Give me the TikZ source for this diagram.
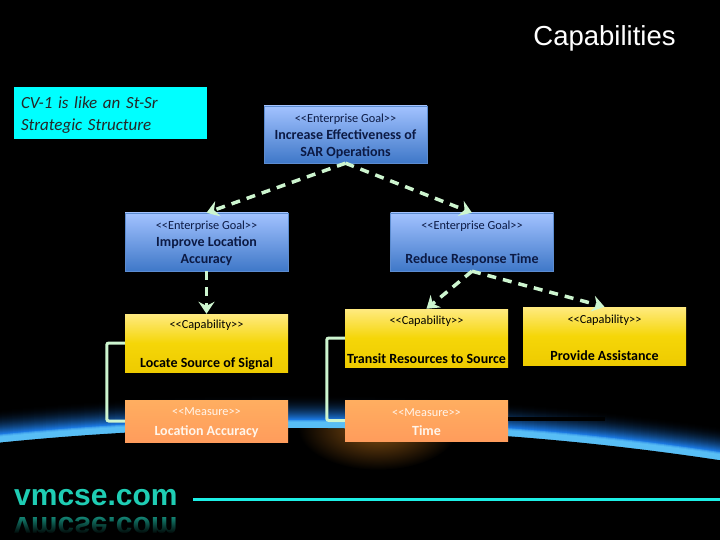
\documentclass[tikz,border=0pt]{standalone}
\usepackage{fontspec}
\setmainfont{Carlito}
\newfontfamily\titlefont{Liberation Sans}
\usetikzlibrary{arrows.meta, fadings}

\definecolor{linkgreen}{HTML}{CDF5CF}
\definecolor{rimblue}{HTML}{1B78E0}
\definecolor{rimsky}{HTML}{58BEF5}
\definecolor{rimpale}{HTML}{C8FAFF}
\definecolor{sitecyan}{HTML}{1DF0E6}
\definecolor{siteteal}{HTML}{1FCDB4}
\definecolor{noteaqua}{HTML}{00FFFF}
\definecolor{goaltop}{HTML}{A2C2FF}
\definecolor{goalbot}{HTML}{3F78C8}
\definecolor{goalink}{HTML}{0C1A44}
\definecolor{captop}{HTML}{FFEA80}
\definecolor{capmid}{HTML}{F5D608}
\definecolor{capbot}{HTML}{EECB00}
\definecolor{meastop}{HTML}{FFAE60}
\definecolor{measbot}{HTML}{FF9C5C}
\definecolor{sunglow}{HTML}{8A5212}

\tikzfading[name=midfade, left color=transparent!100, middle color=transparent!0, right color=transparent!100]

\tikzset{
  basebox/.style={minimum width=163pt, inner sep=0pt, align=center, font=\fontsize{14}{17}\selectfont\bfseries},
  goalbox/.style={basebox, minimum height=58pt, draw=goalbot!85!white, top color=goaltop, bottom color=goalbot, text=goalink},
  capbox/.style={basebox, minimum height=58pt, top color=captop, bottom color=capbot, middle color=capmid, text=black},
  measbox/.style={basebox, top color=meastop, bottom color=measbot, text=white!92!orange},
  dashlink/.style={draw=linkgreen, line width=3.5pt, dash pattern=on 9pt off 7pt, -{Stealth[length=12pt, width=16pt, inset=4pt]}},
  ownlink/.style={draw=linkgreen, line width=3pt, rounded corners=2pt},
}
\newcommand{\stereo}[1]{\rule{0pt}{12pt}{\fontsize{12.3}{13}\selectfont\mdseries #1}}

\begin{document}
\begin{tikzpicture}[x=1pt, y=-1pt]
    \useasboundingbox (0,0) rectangle (720,540);
    \fill[black] (0,0) rectangle (720,540);

    % Horizon
    \begin{scope}
      \clip (0,0) rectangle (720,540);
      \foreach \d in {34,33,...,9} {
        \pgfmathsetmacro{\p}{100*((34-\d)/25)^2}
        \fill[rimblue!\p!black] (290,3278) circle[radius=2850+\d];
      }
      \foreach \d/\p in {8/50, 7/80, 6/100}
        \fill[rimsky!\p!rimblue] (290,3278) circle[radius=2850+\d];
      \fill[rimpale, path fading=midfade] (90,412) rectangle (540,432);
      \fill[black] (290,3278) circle[radius=2850];
      \clip (290,3278) circle[radius=2850];
      \shade[inner color=sunglow, outer color=black] (378,428) ellipse[x radius=80, y radius=42];
    \end{scope}

    % Title and note
    \node[text=white, font=\titlefont\fontsize{27.5}{30}\selectfont] (title) at (604.5,38) {Capabilities};
    \node[fill=noteaqua, minimum width=193pt, minimum height=52pt, inner sep=0pt, text width=179pt, align=left,
          font=\fontsize{17}{22}\selectfont\itshape, text=black!85] (note) at (110.5,113) {\rule{0pt}{16pt}CV-1 is like an St-Sr\\Strategic Structure};

    % Goals
    \node[goalbox, minimum height=57pt] (increase) at (345.5,134.5) {\stereo{<{}<Enterprise Goal>{}>}\\Increase Effectiveness of\\SAR Operations};
    \node[goalbox] (location) at (206.5,242) {\stereo{<{}<Enterprise Goal>{}>}\\Improve Location\\Accuracy};
    \node[goalbox] (response) at (472,242) {\stereo{<{}<Enterprise Goal>{}>}\\[17pt]Reduce Response Time};

    % Capabilities
    \node[capbox] (locate) at (206.5,343) {\stereo{<{}<Capability>{}>}\\[22pt]Locate Source of Signal};
    \node[capbox] (transit) at (426.5,338) {\stereo{<{}<Capability>{}>}\\[22pt]Transit Resources to Source};
    \node[capbox] (assist) at (604.5,336) {\stereo{<{}<Capability>{}>}\\[20pt]Provide Assistance};

    % Measures
    \node[measbox, minimum height=42pt] (accuracy) at (206.5,421) {\stereo{<{}<Measure>{}>}\\[3pt]Location Accuracy};
    \node[measbox, minimum height=41pt] (timemeas) at (426.5,420.5) {\stereo{<{}<Measure>{}>}\\[2pt]Time};

    % Links
    \draw[dashlink] (increase.south) -- (location.north);
    \draw[dashlink] (increase.south) -- (response.north);
    \draw[dashlink] (location.south) -- (locate.north);
    \draw[dashlink] (response.south) -- (transit.north);
    \draw[dashlink] (response.south) -- (assist.north);
    \draw[ownlink] (locate.west) -- ++(-18,0) |- (accuracy.west);
    \draw[ownlink] (transit.west) -- ++(-18,0) |- (timemeas.west);

    % Black bar
    \fill[black] (timemeas.east |- 0,417) rectangle (605,421);

    % Site logo
    \node[anchor=base west, inner sep=0pt, text=siteteal, font=\titlefont\fontsize{30}{30}\selectfont\bfseries] (site) at (14,505) {vmcse.com};
    \node[anchor=base west, inner sep=0pt, yscale=-1, transform shape, text=siteteal!75!black, font=\titlefont\fontsize{30}{30}\selectfont\bfseries] (sitemirror) at (14,517) {vmcse.com};
    \fill[black, path fading=north] (10,514) rectangle (182,534);
    \coordinate (railend) at (720,499);
    \draw[sitecyan, line width=3pt] (193,499) -- (railend);
\end{tikzpicture}
\end{document}
